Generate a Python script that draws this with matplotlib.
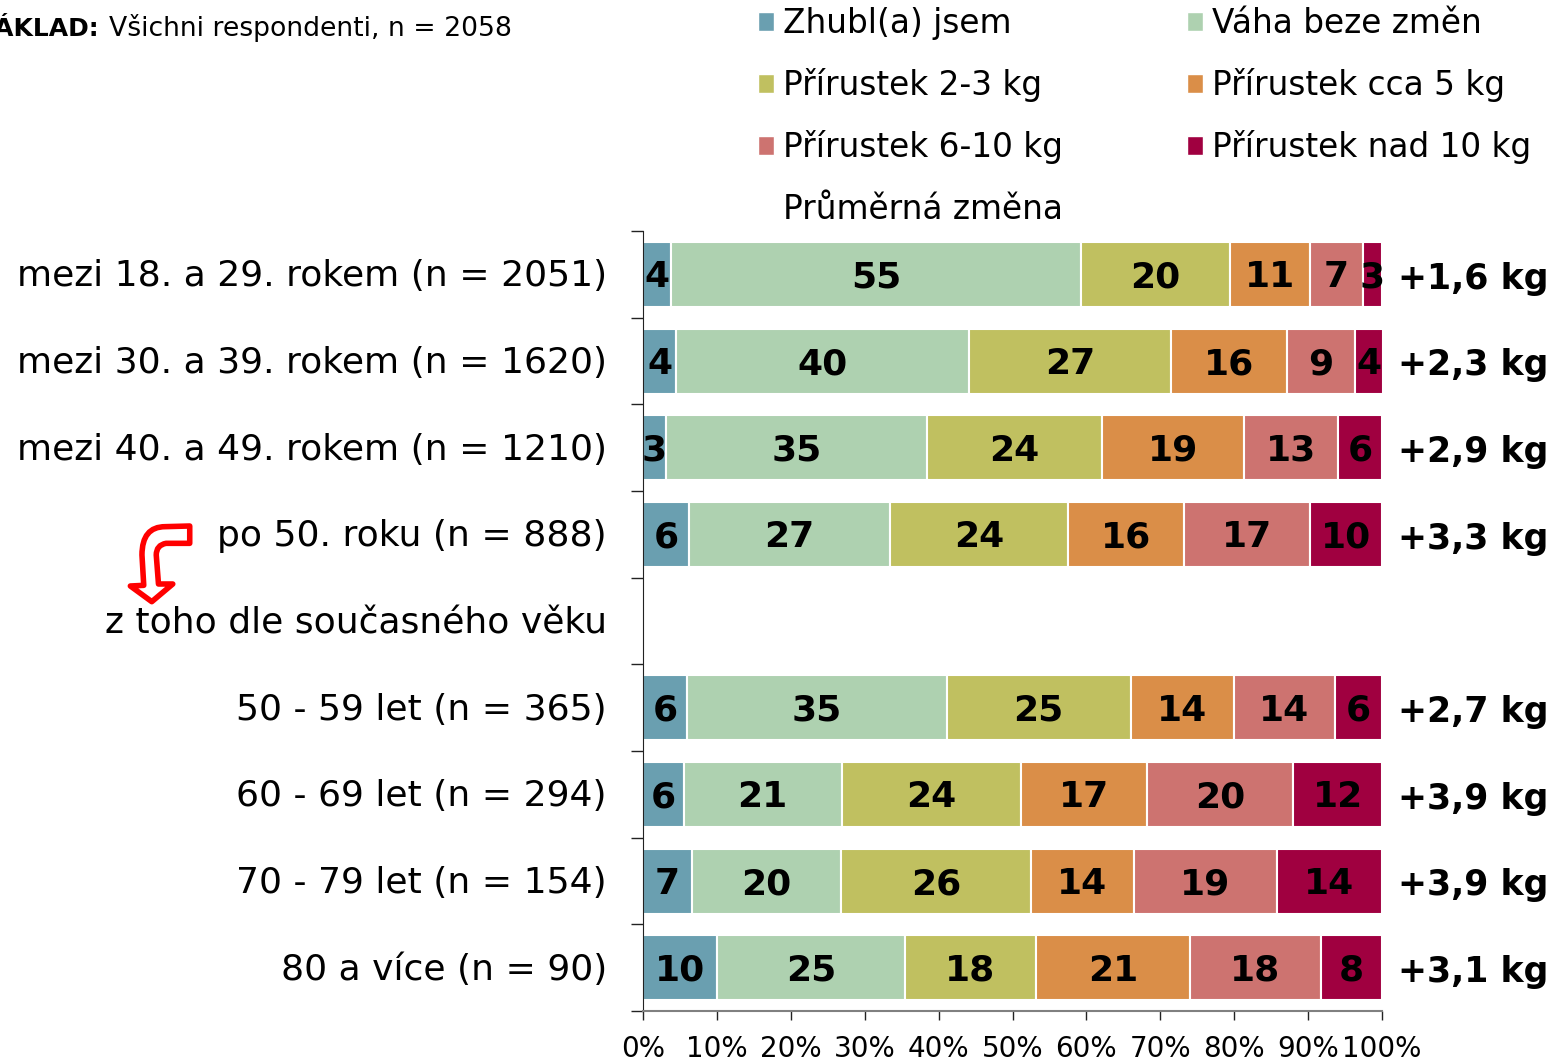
"""plot.py - weight change by life period, stacked bars."""
import numpy as np
import matplotlib
matplotlib.use("Agg")
import matplotlib.pyplot as plt
from matplotlib.path import Path
from matplotlib.patches import PathPatch, Patch

W, H = 1559, 1057

categories = ["mezi 18. a 29. rokem (n = 2051)", "mezi 30. a 39. rokem (n = 1620)",
              "mezi 40. a 49. rokem (n = 1210)", "po 50. roku (n = 888)",
              "z toho dle současného věku", "50 - 59 let (n = 365)",
              "60 - 69 let (n = 294)", "70 - 79 let (n = 154)", "80 a více (n = 90)"]
zhubl =    [3.8, 4.5, 3.1, 6.2, np.nan, 6.0, 5.5, 6.6, 10.0]
beze =     [55.45, 39.6, 35.3, 27.2, np.nan, 35.1, 21.4, 20.2, 25.4]
kg2_3 =    [20.2, 27.4, 23.7, 24.1, np.nan, 24.9, 24.3, 25.7, 17.8]
kg5 =      [10.8, 15.6, 19.2, 15.7, np.nan, 14.0, 17.0, 13.9, 20.8]
kg6_10 =   [7.2, 9.2, 12.7, 17.1, np.nan, 13.6, 19.8, 19.4, 17.7]
kg10 =     [2.55, 3.8, 6.0, 9.7, np.nan, 6.4, 12.0, 14.2, 8.3]
prumer = ["+1,6 kg", "+2,3 kg", "+2,9 kg", "+3,3 kg", "", "+2,7 kg", "+3,9 kg", "+3,9 kg", "+3,1 kg"]

series = [zhubl, beze, kg2_3, kg5, kg6_10, kg10]
names = ["Zhubl(a) jsem", "Váha beze změn", "Přírustek 2-3 kg", "Přírustek cca 5 kg",
         "Přírustek 6-10 kg", "Přírustek nad 10 kg"]
colors = ["#6A9FB0", "#AED1B0", "#C0C060", "#DA8E48", "#CD7370", "#A00040"]

plt.rcParams["font.family"] = ["DejaVu Sans"]


def fx(px):
    return px / W


def fy(py):
    return 1 - py / H


fig = plt.figure(figsize=(W / 100, H / 100), dpi=100)
ax = fig.add_axes([fx(643), fy(1011), fx(1382 - 643), (1011 - 231) / H])

ypos = np.arange(len(categories))
left = np.zeros(len(categories))
for vals, name, col in zip(series, names, colors):
    vals = np.array(vals)
    ax.barh(ypos, vals, left=left, height=0.75, color=col, edgecolor="white", linewidth=1.5)
    for y, v, l in zip(ypos, vals, left):
        if not np.isnan(v):
            ax.text(l + v / 2, y + 0.035, f"{v:.0f}", ha="center", va="center",
                    fontsize=26, fontweight="bold", color="black", clip_on=False)
    left = left + np.nan_to_num(vals)

ax.set_xlim(0, 100)
ax.set_ylim(len(categories) - 0.5, -0.5)
ax.set_xticks(np.arange(0, 101, 10))
ax.set_xticklabels([f"{t}%" for t in range(0, 101, 10)], fontsize=20)
ax.set_yticks(np.arange(-0.5, len(categories)))
ax.set_yticklabels([])
ax.tick_params(axis="y", length=8.6, width=1, direction="out", color="#222222")
ax.tick_params(axis="x", length=6.5, width=1, direction="out", color="#222222", pad=11)
ax.spines["top"].set_visible(False)
ax.spines["right"].set_visible(False)
ax.spines["left"].set_color("#222222")
ax.spines["bottom"].set_color("#808080")
ax.spines["bottom"].set_linewidth(1.5)

# row labels and the average change on the right
for y, cat, pr in zip(ypos, categories, prumer):
    ax.annotate(cat, (0, y), xycoords=("axes fraction", "data"), xytext=(-36 * 0.72, -1.5),
                textcoords="offset points", ha="right", va="center", fontsize=26)
    if pr:
        ax.annotate(pr, (1, y), xycoords=("axes fraction", "data"), xytext=(16 * 0.72, -3),
                    textcoords="offset points", ha="left", va="center", fontsize=25, fontweight="bold")

fig.text(fx(100), fy(36), "ZÁKLAD:", ha="right", va="baseline", fontsize=18, fontweight="bold")
fig.text(fx(109), fy(36), "Všichni respondenti, n = 2058", ha="left", va="baseline", fontsize=19.2)

# legend
handles = [Patch(facecolor=colors[i], edgecolor="white") for i in (0, 2, 4)]
handles.append(Patch(facecolor="none", edgecolor="none"))
handles += [Patch(facecolor=colors[i], edgecolor="white") for i in (1, 3, 5)]
labels = [names[0], names[2], names[4], "Průměrná změna", names[1], names[3], names[5]]
fig.legend(handles, labels, ncol=2, loc="upper left", bbox_to_anchor=(fx(758), fy(7)),
           frameon=False, fontsize=23.6, handlelength=0.5, handleheight=0.5,
           handletextpad=0.275, labelspacing=0.86, columnspacing=3.76, borderpad=0, borderaxespad=0)

# red bent arrow between the two row labels (reference crop coordinates)
arrow = [(425, 138), (425, 190), (372, 190), (350, 195), (350, 225), (355, 312),
         (387, 312), (340, 365), (292, 318), (322, 316), (318, 225), (318, 140), (370, 140), (425, 138)]
codes = [Path.MOVETO, Path.LINETO, Path.LINETO, Path.CURVE3, Path.CURVE3, Path.LINETO,
         Path.LINETO, Path.LINETO, Path.LINETO, Path.LINETO, Path.LINETO, Path.CURVE3, Path.CURVE3, Path.CLOSEPOLY]
verts = [(fx(x / 2.24), fy(y / 3 + 480)) for x, y in arrow]
fig.add_artist(PathPatch(Path(verts, codes), facecolor="white", edgecolor="#FF0000",
                         linewidth=4, joinstyle="round", transform=fig.transFigure))

fig.savefig("out.png", dpi=100)
